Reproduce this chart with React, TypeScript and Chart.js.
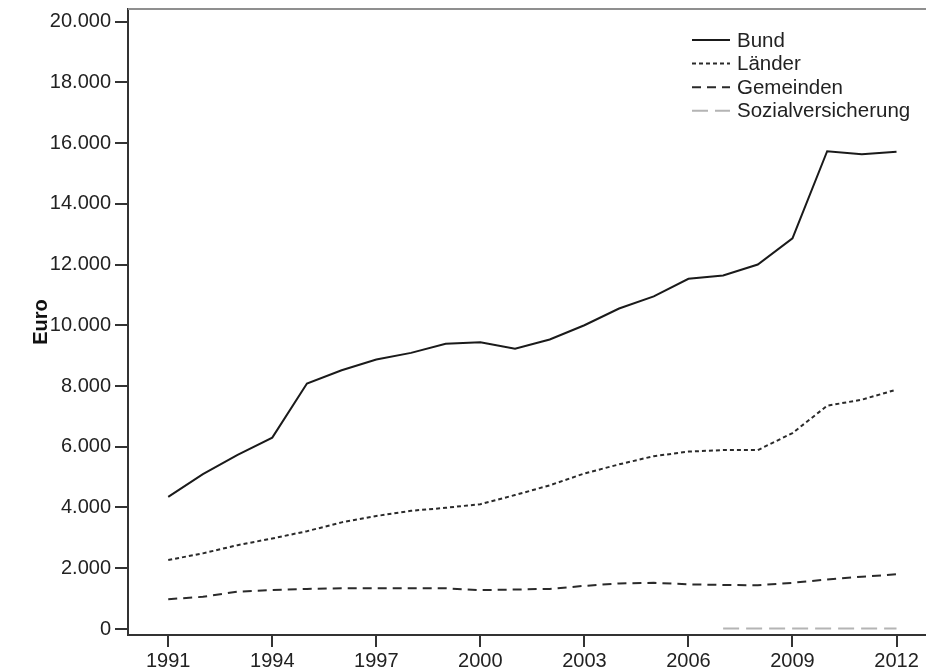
import React, { useEffect, useRef } from 'react';
import { Chart, registerables } from 'chart.js';

Chart.register(...registerables);

const years = [1991, 1992, 1993, 1994, 1995, 1996, 1997, 1998, 1999, 2000, 2001, 2002, 2003, 2004, 2005, 2006, 2007, 2008, 2009, 2010, 2011, 2012];
const bund = [4350, 5100, 5730, 6300, 8080, 8520, 8870, 9090, 9390, 9440, 9230, 9530, 10000, 10550, 10950, 11530, 11640, 12000, 12860, 15730, 15630, 15710];
const laender = [2270, 2490, 2760, 2980, 3220, 3510, 3720, 3890, 3990, 4110, 4410, 4730, 5120, 5420, 5690, 5840, 5890, 5890, 6450, 7350, 7550, 7880];
const gemeinden = [980, 1060, 1230, 1280, 1320, 1340, 1340, 1340, 1340, 1280, 1300, 1320, 1420, 1500, 1520, 1470, 1450, 1440, 1520, 1630, 1720, 1800];
const sozialversicherung = [null, null, null, null, null, null, null, null, null, null, null, null, null, null, null, null, 20, 20, 20, 20, 20, 20];
const seriesLabels = ['Bund', 'Länder', 'Gemeinden', 'Sozialversicherung'];
const xTickYears = [1991, 1994, 1997, 2000, 2003, 2006, 2009, 2012];
const yTickValues = [0, 2000, 4000, 6000, 8000, 10000, 12000, 14000, 16000, 18000, 20000];
const yAxisTitle = 'Euro';

const FONT = '"Liberation Sans", Arial, sans-serif';
const fmt = (v: number) => String(v).replace(/\B(?=(\d{3})+(?!\d))/g, '.');

const toPoints = (vals: (number | null)[]) => years.map((y, i) => ({ x: y, y: vals[i] }));

const framePlugin = {
  id: 'topFrame',
  afterDraw(chart: any) {
    const { ctx, chartArea } = chart;
    ctx.save();
    ctx.strokeStyle = '#8f8f8f';
    ctx.lineWidth = 2;
    ctx.beginPath();
    ctx.moveTo(chartArea.left, chartArea.top);
    ctx.lineTo(chart.width, chartArea.top);
    ctx.stroke();
    ctx.restore();
  },
};

const legendPlugin = {
  id: 'insideLegend',
  afterDraw(chart: any) {
    const { ctx, chartArea } = chart;
    ctx.save();
    const x0 = chartArea.right - 234;
    const x1 = chartArea.right - 196;
    const tx = chartArea.right - 189;
    chart.data.datasets.forEach((ds: any, i: number) => {
      const y = chartArea.top + 31 + i * 23.6;
      ctx.strokeStyle = ds.borderColor;
      ctx.lineWidth = ds.borderWidth;
      ctx.setLineDash(ds.borderDash || []);
      ctx.beginPath();
      ctx.moveTo(x0, y);
      ctx.lineTo(x1, y);
      ctx.stroke();
      ctx.setLineDash([]);
      ctx.fillStyle = '#222';
      ctx.font = `20.5px ${FONT}`;
      ctx.textAlign = 'left';
      ctx.textBaseline = 'middle';
      ctx.fillText(ds.label, tx, y + 1);
    });
    ctx.restore();
  },
};

export default function App() {
  const canvasRef = useRef<HTMLCanvasElement | null>(null);

  useEffect(() => {
    document.body.style.margin = '0';
    const canvas = canvasRef.current;
    if (!canvas) return;
    const chart = new Chart(canvas, {
      type: 'line',
      data: {
        datasets: [
          { label: seriesLabels[0], data: toPoints(bund), borderColor: '#1a1a1a', borderWidth: 2, borderDash: [], pointRadius: 0, tension: 0, fill: false },
          { label: seriesLabels[1], data: toPoints(laender), borderColor: '#2a2a2a', borderWidth: 2, borderDash: [4, 3], pointRadius: 0, tension: 0, fill: false },
          { label: seriesLabels[2], data: toPoints(gemeinden), borderColor: '#2a2a2a', borderWidth: 2, borderDash: [9, 6], pointRadius: 0, tension: 0, fill: false },
          { label: seriesLabels[3], data: toPoints(sozialversicherung), borderColor: '#b4b4b4', borderWidth: 2, borderDash: [16, 7], pointRadius: 0, tension: 0, fill: false, spanGaps: false },
        ],
      },
      options: {
        animation: false,
        responsive: true,
        maintainAspectRatio: false,
        layout: { padding: { top: 9, left: 0, right: 0, bottom: 0 } },
        plugins: { legend: { display: false }, tooltip: { enabled: false } },
        scales: {
          x: {
            type: 'linear',
            min: 1989.84,
            max: 2012.85,
            afterBuildTicks: (s: any) => { s.ticks = xTickYears.map((v) => ({ value: v })); },
            afterFit: (s: any) => { s.height = 35; s.paddingLeft = 0; s.paddingRight = 0; },
            ticks: { callback: (v: any) => String(v), font: { family: FONT, size: 20 }, color: '#222', padding: 2, maxRotation: 0, autoSkip: false },
            grid: { display: true, drawOnChartArea: false, drawTicks: true, tickLength: 12, color: '#333', lineWidth: 2 },
            border: { display: true, color: '#333', width: 2 },
          },
          y: {
            type: 'linear',
            min: -198,
            max: 20412,
            afterBuildTicks: (s: any) => { s.ticks = yTickValues.map((v) => ({ value: v })); },
            afterFit: (s: any) => { s.width = 128; s.paddingTop = 0; s.paddingBottom = 0; },
            ticks: { callback: (v: any) => fmt(Number(v)), font: { family: FONT, size: 20 }, color: '#222', padding: 4, autoSkip: false },
            grid: { display: true, drawOnChartArea: false, drawTicks: true, tickLength: 13, color: '#333', lineWidth: 2 },
            border: { display: true, color: '#333', width: 2 },
            title: { display: true, text: yAxisTitle, font: { family: FONT, size: 20, weight: 'bold' }, color: '#111', padding: { top: 29, bottom: 0 } },
          },
        },
      },
      plugins: [framePlugin, legendPlugin],
    });
    return () => chart.destroy();
  }, []);

  return (
    <div style={{ position: 'absolute', left: 0, top: 0, width: 926, height: 670, background: '#fff' }}>
      <canvas ref={canvasRef} />
    </div>
  );
}
